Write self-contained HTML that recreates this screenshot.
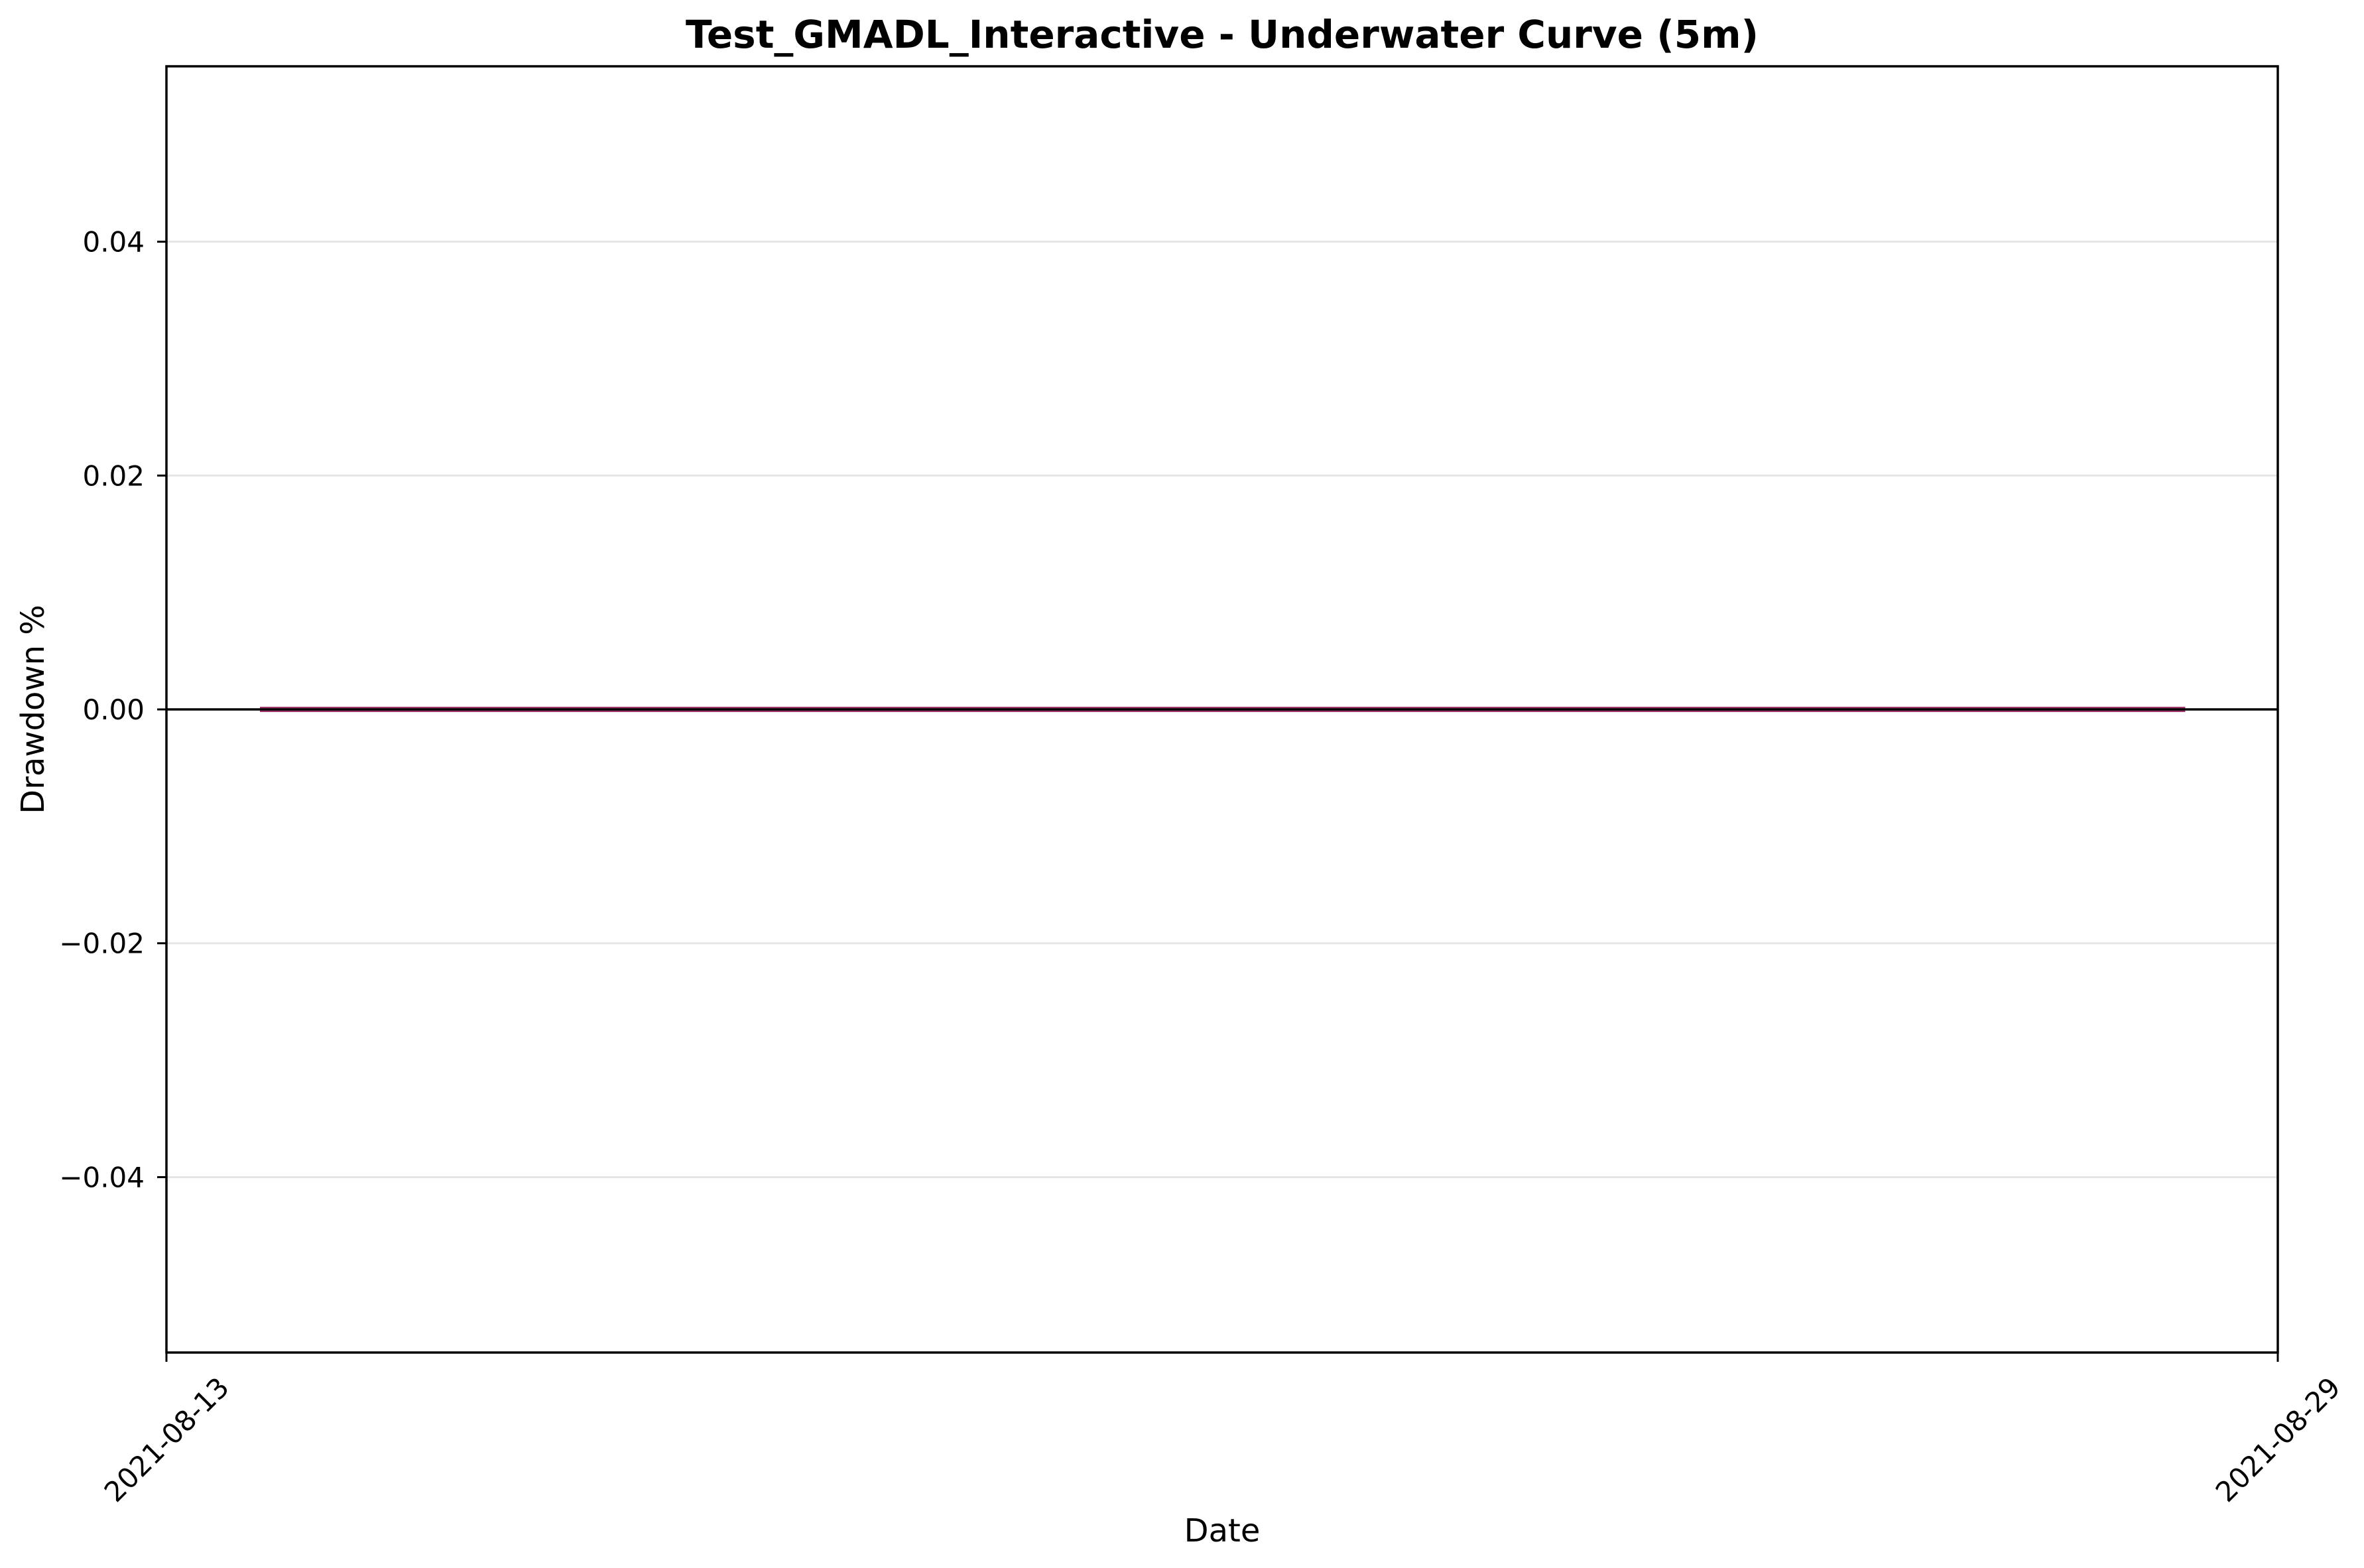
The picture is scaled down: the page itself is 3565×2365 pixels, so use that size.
<!DOCTYPE html>
<html><head><meta charset="utf-8"><style>
html,body{margin:0;padding:0;background:#fff;}
svg{display:block;font-family:"DejaVu Sans","Liberation Sans",sans-serif;}
</style></head><body>
<svg id="chart" width="3565" height="2365" viewBox="0 0 3565 2365" xmlns="http://www.w3.org/2000/svg">
<rect width="3565" height="2365" fill="#fff"/>
<text x="1843" y="72" text-anchor="middle" font-size="58" font-weight="bold">Test_GMADL_Interactive - Underwater Curve (5m)</text>
<g id="grid"></g>
<g id="series"></g>
<g id="axes"></g>
<text x="1843" y="2325" text-anchor="middle" font-size="48">Date</text>
<text transform="translate(66,1070) rotate(-90)" text-anchor="middle" font-size="48">Drawdown %</text>
</svg>
<script>
const xTickDates = ["2021-08-13", "2021-08-29"];
const yTicks = [-0.04, -0.02, 0.00, 0.02, 0.04];
const yTickLabels = ["\u22120.04", "\u22120.02", "0.00", "0.02", "0.04"];
const seriesDates = ["2021-08-13T17:00", "2021-08-28T07:10"];
const drawdownValues = [0, 0];

const NS = "http://www.w3.org/2000/svg";
const L = 251, R = 3435, T = 100, B = 2040;
const xMin = Date.parse("2021-08-13T00:00Z"), xMax = Date.parse("2021-08-29T00:00Z");
const yMin = -0.055, yMax = 0.055;
function xs(d){ return L + (Date.parse(d + (d.length > 10 ? ":00Z" : "T00:00Z")) - xMin) / (xMax - xMin) * (R - L); }
function ys(v){ return B - (v - yMin) / (yMax - yMin) * (B - T); }
function mk(tag, attrs, parent){ const e = document.createElementNS(NS, tag); for (const k in attrs) e.setAttribute(k, attrs[k]); parent.appendChild(e); return e; }

const grid = document.getElementById('grid');
const series = document.getElementById('series');
const axes = document.getElementById('axes');

yTicks.forEach((v, i) => {
  const y = ys(v);
  const g = mk('line', {x1: L, x2: R, y1: y, y2: y, stroke: '#e6e6e6', 'stroke-width': 3}, grid);
  
  
  const t = mk('line', {x1: L - 14, x2: L, y1: y, y2: y, stroke: '#000', 'stroke-width': 3}, axes);
  
  
  const lb = mk('text', {x: 218, y: y + 15, 'text-anchor': 'end', 'font-size': 42}, axes);
  lb.textContent = yTickLabels[i];
  
  
});

const pts = seriesDates.map((d, i) => [xs(d), ys(drawdownValues[i])]);
const y0 = ys(0);
let dpath = 'M' + pts[0][0] + ',' + y0 + ' ' + pts.map(p => 'L' + p[0] + ',' + p[1]).join(' ') + ' L' + pts[pts.length-1][0] + ',' + y0 + ' Z';
const area = mk('path', {d: dpath, fill: '#c2477f', 'fill-opacity': 0.4, stroke: 'none'}, series);


const line = mk('polyline', {points: pts.map(p => p.join(',')).join(' '), fill: 'none', stroke: '#a33a6e', 'stroke-width': 8}, series);


const zl = mk('line', {x1: L, x2: R, y1: y0, y2: y0, stroke: '#000', 'stroke-width': 3.5}, series);



xTickDates.forEach(d => {
  const x = xs(d);
  const t = mk('line', {x1: x, x2: x, y1: B, y2: B + 14, stroke: '#000', 'stroke-width': 3}, axes);
  
  
  const lb = mk('text', {x: x, y: 2171 + 15, 'text-anchor': 'middle', 'font-size': 42, transform: 'rotate(-45 ' + x + ' 2171)'}, axes);
  lb.textContent = d;
  
  
});

const frame = mk('rect', {x: L, y: T, width: R - L, height: B - T, fill: 'none', stroke: '#000', 'stroke-width': 3.5}, axes);


</script>
</body></html>
